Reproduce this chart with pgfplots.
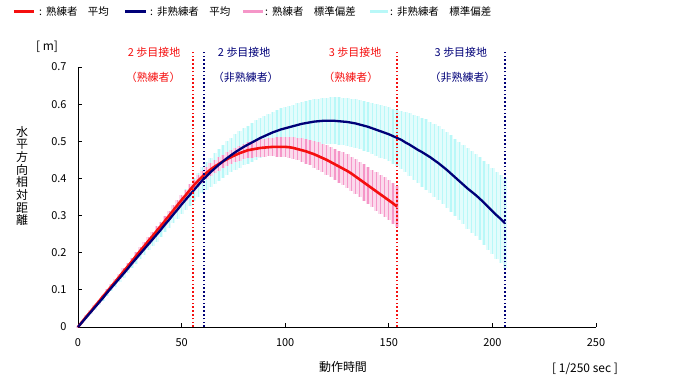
\documentclass[border=0pt]{standalone}
\usepackage{fontspec}
\setmainfont{Noto Sans CJK JP}
\usepackage{pgfplots}
\pgfplotsset{compat=1.18}
\usepackage{pgfplotstable}
\definecolor{myred}{RGB}{245,15,15}
\definecolor{mynavy}{RGB}{0,0,120}
\definecolor{mypink}{RGB}{245,150,200}
\definecolor{mycyan}{RGB}{185,248,248}

\pgfplotstableread{
x y e
0 0.000 0.002
2 0.014 0.003
4 0.028 0.003
6 0.041 0.004
8 0.055 0.004
10 0.068 0.005
12 0.082 0.005
14 0.095 0.006
16 0.109 0.007
18 0.122 0.007
20 0.136 0.008
22 0.150 0.008
24 0.163 0.009
26 0.177 0.009
28 0.191 0.010
30 0.205 0.010
32 0.218 0.010
34 0.232 0.011
36 0.245 0.011
38 0.259 0.012
40 0.272 0.012
42 0.286 0.013
44 0.300 0.013
46 0.314 0.014
48 0.328 0.014
50 0.342 0.014
52 0.355 0.015
54 0.369 0.015
56 0.382 0.015
58 0.394 0.016
60 0.405 0.016
62 0.415 0.017
64 0.424 0.017
66 0.432 0.017
68 0.439 0.018
70 0.446 0.018
72 0.452 0.019
74 0.458 0.019
76 0.463 0.020
78 0.468 0.020
80 0.472 0.021
82 0.476 0.021
84 0.478 0.022
86 0.480 0.022
88 0.482 0.023
90 0.483 0.024
92 0.484 0.024
94 0.485 0.025
96 0.485 0.026
98 0.485 0.026
100 0.485 0.027
102 0.484 0.028
104 0.482 0.029
106 0.479 0.030
108 0.476 0.032
110 0.473 0.033
112 0.469 0.034
114 0.465 0.036
116 0.460 0.037
118 0.455 0.039
120 0.450 0.040
122 0.444 0.041
124 0.438 0.042
126 0.432 0.043
128 0.426 0.044
130 0.420 0.045
132 0.413 0.046
134 0.405 0.047
136 0.397 0.048
138 0.389 0.049
140 0.381 0.050
142 0.373 0.051
144 0.365 0.052
146 0.357 0.053
148 0.349 0.054
150 0.341 0.054
152 0.333 0.055
154 0.324 0.056
}\redtable

\pgfplotstableread{
x y e
0 0.000 0.002
2 0.013 0.003
4 0.026 0.004
6 0.039 0.005
8 0.052 0.006
10 0.065 0.006
12 0.078 0.007
14 0.092 0.008
16 0.105 0.009
18 0.118 0.009
20 0.131 0.010
22 0.144 0.011
24 0.157 0.012
26 0.171 0.013
28 0.184 0.014
30 0.197 0.015
32 0.210 0.016
34 0.223 0.017
36 0.236 0.018
38 0.249 0.019
40 0.262 0.020
42 0.276 0.021
44 0.289 0.022
46 0.303 0.024
48 0.316 0.025
50 0.330 0.026
52 0.343 0.028
54 0.356 0.029
56 0.369 0.031
58 0.382 0.033
60 0.395 0.035
62 0.406 0.037
64 0.417 0.039
66 0.427 0.041
68 0.437 0.043
70 0.446 0.045
72 0.455 0.046
74 0.463 0.047
76 0.471 0.048
78 0.478 0.049
80 0.485 0.050
82 0.491 0.051
84 0.497 0.052
86 0.503 0.053
88 0.509 0.054
90 0.514 0.055
92 0.519 0.055
94 0.524 0.056
96 0.528 0.056
98 0.532 0.057
100 0.535 0.057
102 0.538 0.058
104 0.541 0.058
106 0.544 0.059
108 0.547 0.059
110 0.549 0.060
112 0.551 0.060
114 0.553 0.061
116 0.554 0.061
118 0.555 0.062
120 0.5555 0.062
122 0.5555 0.063
124 0.555 0.063
126 0.554 0.064
128 0.553 0.064
130 0.552 0.065
132 0.550 0.065
134 0.548 0.066
136 0.545 0.066
138 0.542 0.067
140 0.539 0.068
142 0.535 0.069
144 0.531 0.070
146 0.527 0.071
148 0.523 0.072
150 0.519 0.073
152 0.514 0.074
154 0.509 0.075
156 0.504 0.078
158 0.497 0.081
160 0.491 0.084
162 0.484 0.087
164 0.477 0.090
166 0.471 0.093
168 0.464 0.095
170 0.457 0.096
172 0.449 0.098
174 0.441 0.099
176 0.432 0.100
178 0.423 0.102
180 0.413 0.103
182 0.403 0.104
184 0.393 0.106
186 0.383 0.107
188 0.373 0.108
190 0.364 0.110
192 0.355 0.111
194 0.345 0.112
196 0.334 0.114
198 0.323 0.115
200 0.312 0.116
202 0.301 0.117
204 0.291 0.119
206 0.280 0.120
}\bluetable

\pgfplotsset{
  basegeom/.style={
    at={(0,0)}, anchor=south west,
    scale only axis, width=518bp, height=260bp,
    xmin=0, xmax=250, ymin=0, ymax=0.7,
    clip=false,
  },
  sdbars/.style 2 args={color=#1, draw=none, mark=none,
    error bars/.cd, y dir=both, y explicit, error mark=none,
    error bar style={draw=#1, line width=#2}},
}

\begin{document}
\begin{tikzpicture}
\path[use as bounding box] (-78bp,-56bp) rectangle (611bp,327bp);
% non-skilled standard deviation: pale band + bars
\begin{axis}[basegeom, hide axis]
\addplot[sdbars={mycyan!40}{4.3bp}] table[x=x, y=y, y error=e] {\bluetable};
\end{axis}
\begin{axis}[basegeom, hide axis]
\addplot[sdbars={mycyan}{1.3bp}] table[x=x, y=y, y error=e] {\bluetable};
\end{axis}
% skilled standard deviation: pale band + bars
\begin{axis}[basegeom, hide axis]
\addplot[sdbars={mypink!35}{4.3bp}] table[x=x, y=y, y error=e] {\redtable};
\end{axis}
\begin{axis}[basegeom, hide axis]
\addplot[sdbars={mypink}{1.2bp}] table[x=x, y=y, y error=e] {\redtable};
\end{axis}
% main axis
\begin{axis}[
  basegeom,
  axis x line*=bottom, axis y line*=left,
  xtick={0,50,100,150,200,250},
  ytick={0,0.1,0.2,0.3,0.4,0.5,0.6,0.7},
  yticklabels={0,0.1,0.2,0.3,0.4,0.5,0.6,0.7},
  tick align=inside, major tick length=4bp,
  tick style={black, line width=0.8bp},
  axis line style={black, line width=0.8bp},
  /pgf/number format/assume math mode=true,
  tick label style={font=\fontsize{11}{12}\selectfont},
  xticklabel style={yshift=-8bp},
  yticklabel style={xshift=-8bp},
]
% means
\addplot[myred, line width=2.6bp, mark=none] table[x=x, y=y] {\redtable};
\addplot[mynavy, line width=2.3bp, mark=none] table[x=x, y=y] {\bluetable};
% contact lines
\addplot[myred, line width=1.8bp, dash pattern=on 1.6bp off 2.2bp] coordinates {(55.4,0) (55.4,0.74)};
\addplot[mynavy, line width=1.8bp, dash pattern=on 1.6bp off 2.2bp] coordinates {(60.8,0) (60.8,0.74)};
\addplot[myred, line width=1.8bp, dash pattern=on 1.6bp off 2.2bp] coordinates {(154,0) (154,0.74)};
\addplot[mynavy, line width=1.8bp, dash pattern=on 1.6bp off 2.2bp] coordinates {(206,0) (206,0.74)};
% annotations
\node[text=myred, font=\fontsize{11}{12}\selectfont] at (axis cs:36.7,0.740) {2 歩目接地};
\node[text=myred, font=\fontsize{11}{12}\selectfont] at (axis cs:36.3,0.673) {（熟練者）};
\node[text=mynavy, font=\fontsize{11}{12}\selectfont] at (axis cs:80.2,0.740) {2 歩目接地};
\node[text=mynavy, font=\fontsize{11}{12}\selectfont] at (axis cs:81.0,0.673) {（非熟練者）};
\node[text=myred, font=\fontsize{11}{12}\selectfont] at (axis cs:133.7,0.740) {3 歩目接地};
\node[text=myred, font=\fontsize{11}{12}\selectfont] at (axis cs:131.7,0.673) {（熟練者）};
\node[text=mynavy, font=\fontsize{11}{12}\selectfont] at (axis cs:184.8,0.740) {3 歩目接地};
\node[text=mynavy, font=\fontsize{11}{12}\selectfont] at (axis cs:185.6,0.673) {（非熟練者）};
\end{axis}
% axis titles
\node[font=\fontsize{12}{12}\selectfont] at (-31bp,280bp) {[ m]};
\node[font=\fontsize{12}{12.75}\selectfont, align=center, inner sep=0pt] at (-56bp,151bp)
  {水\\平\\方\\向\\相\\対\\距\\離};
\node[font=\fontsize{12}{12}\selectfont] at (265bp,-40bp) {動作時間};
\node[font=\fontsize{12}{12}\selectfont] at (507bp,-42bp) {[ 1/250 sec ]};
% legend
\draw[myred, line width=3bp] (-64bp,315bp) -- (-44bp,315bp);
\node[anchor=west, font=\fontsize{10.5}{12}\selectfont, inner sep=0pt] at (-39bp,315bp) {:\hspace{4bp}熟練者　平均};
\draw[mynavy, line width=3bp] (47bp,315bp) -- (68bp,315bp);
\node[anchor=west, font=\fontsize{10.5}{12}\selectfont, inner sep=0pt] at (72bp,315bp) {:\hspace{4bp}非熟練者　平均};
\draw[mypink, line width=3bp] (165bp,315bp) -- (185bp,315bp);
\node[anchor=west, font=\fontsize{10.5}{12}\selectfont, inner sep=0pt] at (187bp,315bp) {:\hspace{4bp}熟練者　標準偏差};
\draw[mycyan, line width=3bp] (292bp,315bp) -- (310bp,315bp);
\node[anchor=west, font=\fontsize{10.5}{12}\selectfont, inner sep=0pt] at (312bp,315bp) {:\hspace{4bp}非熟練者　標準偏差};
\end{tikzpicture}
\end{document}
